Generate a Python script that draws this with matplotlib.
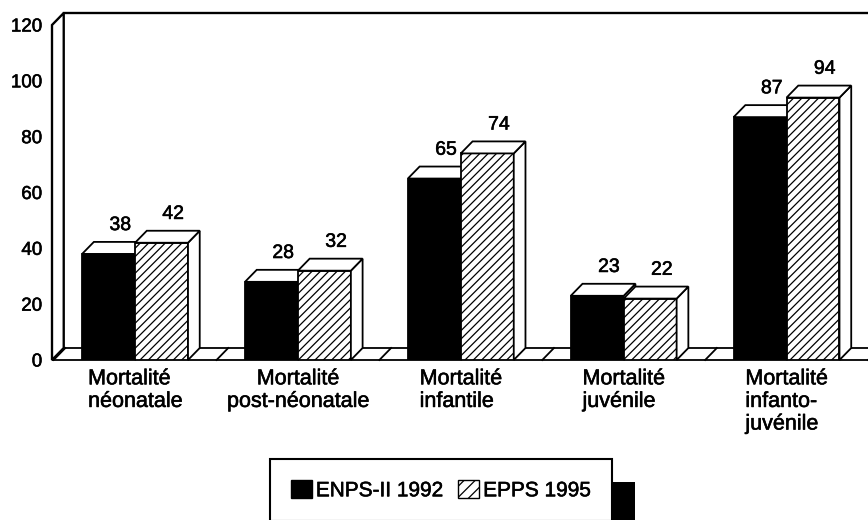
import numpy as np
import matplotlib.pyplot as plt
import matplotlib.patheffects as pe
from matplotlib.patches import Polygon, Rectangle, Patch

plt.rcParams['font.family'] = ['Liberation Sans', 'DejaVu Sans']
plt.rcParams['hatch.linewidth'] = 0.9

categories = ['Mortalité\nnéonatale', 'Mortalité\npost-néonatale', 'Mortalité\ninfantile',
              'Mortalité\njuvénile', 'Mortalité\ninfanto-\njuvénile']
enps_1992 = [38, 28, 65, 23, 87]
epps_1995 = [42, 32, 74, 22, 94]
series_names = ['ENPS-II 1992', 'EPPS 1995']
yticks = [0, 20, 40, 60, 80, 100, 120]

W, H = 868, 520
fig = plt.figure(figsize=(W / 100, H / 100), dpi=100)
ax = fig.add_axes([52 / W, 1 - 360 / H, (W - 52) / W, (360 - 25) / H])
x0, x1 = -0.51, 4.5
ax.set_xlim(x0, x1)
ax.set_ylim(0, 120)
for s in ax.spines.values():
    s.set_visible(False)

# slightly heavier text strokes
heavy = [pe.withStroke(linewidth=0.4, foreground='black')]

# fake 3d: depth offset in data units
dx, dy = 0.072, 4.3
bw = 0.325
lw = 1.3
n = len(categories)

# floor
ax.add_patch(Polygon([(x0, 0), (x1 + 1, 0), (x1 + 1 + dx, dy), (x0 + dx, dy)],
                     fc='white', ec='black', lw=lw, zorder=1, clip_on=False))
for b in np.arange(n + 1) - 0.5:
    ax.plot([b, b + dx], [0, dy], color='black', lw=lw, zorder=1, clip_on=False)
# left wall and back wall top
ax.add_patch(Polygon([(x0, 0), (x0, 120), (x0 + dx, 120 + dy), (x0 + dx, dy)],
                     fc='white', ec='black', lw=lw * 1.3, zorder=1, clip_on=False))
ax.plot([x0 + dx, x1 + 1], [120 + dy, 120 + dy], color='black', lw=lw * 1.3, clip_on=False)

x = np.arange(n)


def faces(left, h, z):
    top = [(left, h), (left + bw, h), (left + bw + dx, h + dy), (left + dx, h + dy)]
    side = [(left + bw, 0), (left + bw + dx, dy), (left + bw + dx, h + dy), (left + bw, h)]
    for pts in (side, top):
        ax.add_patch(Polygon(pts, fc='white', ec='black', lw=lw, zorder=z, clip_on=False))
    ax.text(left + bw / 2 + dx, h + dy + 2.8, str(h), ha='center', va='bottom',
            fontsize=14, zorder=5, path_effects=heavy)


ax.bar(x - bw, enps_1992, bw, align='edge', color='black', ec='black', lw=lw, zorder=2)
ax.bar(x, epps_1995, bw, align='edge', color='white', ec='black', lw=lw,
       hatch='////', zorder=3)
for i in range(n):
    faces(x[i] - bw, enps_1992[i], 2)
    faces(x[i], epps_1995[i], 3)

ax.set_yticks(yticks)
ax.set_xticks(x)
ax.set_xticklabels(categories, fontsize=15.5, linespacing=1.1)
for i, t in enumerate(ax.get_xticklabels()):
    t.set_multialignment('center' if i == 1 else 'left')
    t.set_path_effects(heavy)
for t in ax.get_yticklabels():
    t.set_path_effects(heavy)
ax.tick_params(axis='y', length=0, pad=7, labelsize=13.5)
ax.tick_params(axis='x', length=0, pad=6)

handles = [Patch(fc='black', ec='black'), Patch(fc='white', ec='black', hatch='///')]
leg = fig.legend(handles, series_names, loc='upper left', ncol=2,
                 bbox_to_anchor=(270 / W, 1 - 459 / H), borderaxespad=0,
                 fontsize=15, frameon=True, fancybox=False, edgecolor='black',
                 framealpha=1, borderpad=1.0, handlelength=1.0, handleheight=1.0,
                 handletextpad=0.2, columnspacing=0.7)
leg.get_frame().set_linewidth(1.5)
leg.set_zorder(5)
for t in leg.get_texts():
    t.set_path_effects(heavy)

# offset black shadow behind the legend box
fig.canvas.draw()
bb = leg.get_frame().get_window_extent()
inv = fig.transFigure.inverted()
(sx0, sy0), (sx1, sy1) = inv.transform([(bb.x0 + 23, bb.y0 - 23), (bb.x1 + 23, bb.y1 - 23)])
fig.add_artist(Rectangle((sx0, sy0), sx1 - sx0, sy1 - sy0, transform=fig.transFigure,
                         fc='black', ec='none', zorder=4))

fig.savefig('out.png', dpi=100)
